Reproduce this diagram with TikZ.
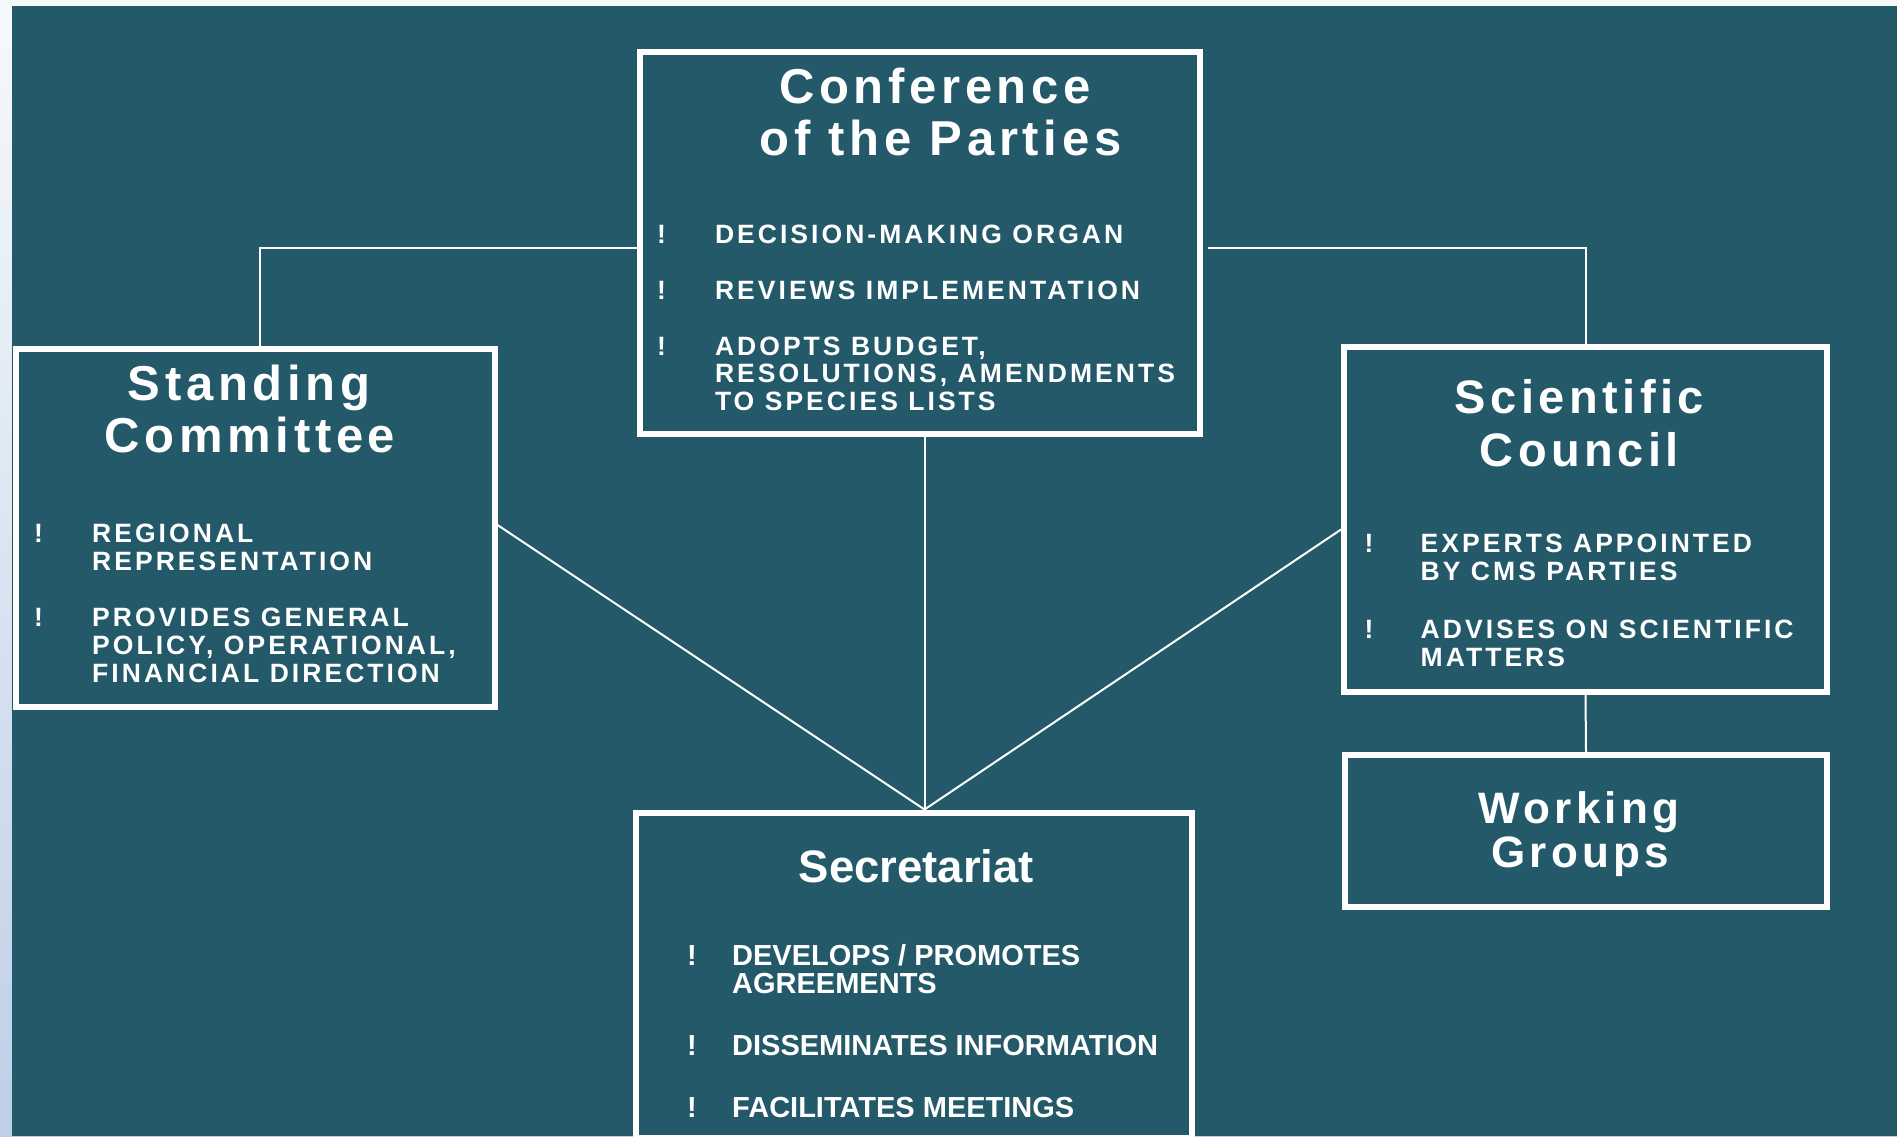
\documentclass[tikz,border=0pt]{standalone}
\usepackage{fontspec}
\setmainfont{Liberation Sans}
\newfontfamily\trkb[LetterSpace=11.5]{Liberation Sans}
\newfontfamily\trkt[LetterSpace=9.5]{Liberation Sans}
\definecolor{bg}{RGB}{35,89,105}
\definecolor{stripT}{RGB}{246,249,252}
\definecolor{stripB}{RGB}{190,207,230}
\begin{document}
\begin{tikzpicture}[x=1pt,y=-1pt,
  box/.style={draw=white, line width=6pt, rectangle, inner sep=0pt},
  conn/.style={draw=white, line width=2pt},
  ttl/.style={text=white, inner sep=0pt, anchor=base, font=\trkt\bfseries\fontsize{49}{52}\selectfont},
  ttlw/.style={ttl, font=\trkt\bfseries\fontsize{44}{46}\selectfont},
  ttlsc/.style={ttl, font=\trkt\bfseries\fontsize{47}{50}\selectfont},
  ttls/.style={ttl, font=\bfseries\fontsize{45.5}{47}\selectfont},
  btx/.style={text=white, inner sep=0pt, anchor=base west, font=\trkb\bfseries\fontsize{26.5}{28}\selectfont},
  bang/.style={text=white, inner sep=0pt, anchor=base west, font=\bfseries\fontsize{26.5}{28}\selectfont},
  btxs/.style={btx, font=\bfseries\fontsize{29}{30}\selectfont},
  bangs/.style={bang, font=\bfseries\fontsize{29}{30}\selectfont}]
\useasboundingbox (0,0) rectangle (1897,1136);
\clip (0,0) rectangle (1897,1136);
\shade[top color=stripT, bottom color=stripB] (0,0) rectangle (1897,1136);
\fill[bg] (12,6) rectangle (1897,1136);

% boxes
\node[box, minimum width=560pt, minimum height=382pt] (conf) at (920,243) {};
\node[box, minimum width=479pt, minimum height=358pt] (std) at (255,528) {};
\node[box, minimum width=483pt, minimum height=345pt] (sci) at (1585.5,519.5) {};
\node[box, minimum width=482pt, minimum height=152pt] (wg) at (1586,831) {};
\node[box, minimum width=556pt, minimum height=325.5pt] (sec) at (914,975.25) {};

% connectors
\coordinate (apex) at ([xshift=10.5pt]sec.north);
\draw[conn] ([yshift=-5pt]conf.west) -| ([xshift=5pt]std.north);
\draw[conn] ([yshift=-5pt,xshift=5pt]conf.east) -| (sci.north);
\draw[conn] ([xshift=4.5pt]conf.south) -- (apex);
\draw[conn] ([yshift=3pt]std.east) -- (apex);
\draw[conn] ([yshift=-10pt]sci.west) -- (apex);
\draw[conn] (sci.south) -- (wg.north);

% Conference of the Parties
\node[ttl] (conft1) at (935,103) {Conference};
\node[ttl] (conft2) at (940.5,155) {of the Parties};
\node[bang] (cb1) at (657,243) {!};
\node[btx] (cl1) at (714.8,243) {DECISION-MAKING ORGAN};
\node[bang] (cb2) at (657,299) {!};
\node[btx] (cl2) at (714.8,299) {REVIEWS IMPLEMENTATION};
\node[bang] (cb3) at (657,355) {!};
\node[btx] (cl3) at (714.8,355) {ADOPTS BUDGET,};
\node[btx] (cl4) at (714.8,382.5) {RESOLUTIONS, AMENDMENTS};
\node[btx] (cl5) at (714.8,410) {TO SPECIES LISTS};

% Standing Committee
\node[ttl] (stdt1) at (249,400) {Standing};
\node[ttl] (stdt2) at (250,452) {Committee};
\node[bang] (sb1) at (34,542) {!};
\node[btx] (sl1) at (92,542) {REGIONAL};
\node[btx] (sl2) at (92,570) {REPRESENTATION};
\node[bang] (sb2) at (34,626) {!};
\node[btx] (sl3) at (92,626) {PROVIDES GENERAL};
\node[btx] (sl4) at (92,654) {POLICY, OPERATIONAL,};
\node[btx] (sl5) at (92,682.5) {FINANCIAL DIRECTION};

% Scientific Council
\node[ttlsc] (scit1) at (1579.5,413) {Scientific};
\node[ttlsc] (scit2) at (1579.5,466) {Council};
\node[bang] (kb1) at (1364.5,552) {!};
\node[btx] (kl1) at (1420.5,552) {EXPERTS APPOINTED};
\node[btx] (kl2) at (1420.5,580) {BY CMS PARTIES};
\node[bang] (kb2) at (1364.5,638) {!};
\node[btx] (kl3) at (1420.5,638) {ADVISES ON SCIENTIFIC};
\node[btx] (kl4) at (1420.5,666) {MATTERS};

% Working Groups
\node[ttlw] (wgt1) at (1579,823) {Working};
\node[ttlw] (wgt2) at (1580,867) {Groups};

% Secretariat
\node[ttls] (sect1) at (916.5,882) {Secretariat};
\node[bangs] (eb1) at (687,965) {!};
\node[btxs] (el1) at (732,965) {DEVELOPS / PROMOTES};
\node[btxs] (el2) at (732,993) {AGREEMENTS};
\node[bangs] (eb2) at (687,1055) {!};
\node[btxs] (el3) at (732,1055) {DISSEMINATES INFORMATION};
\node[bangs] (eb3) at (687,1117) {!};
\node[btxs] (el4) at (732,1117) {FACILITATES MEETINGS};
\end{tikzpicture}
\end{document}
